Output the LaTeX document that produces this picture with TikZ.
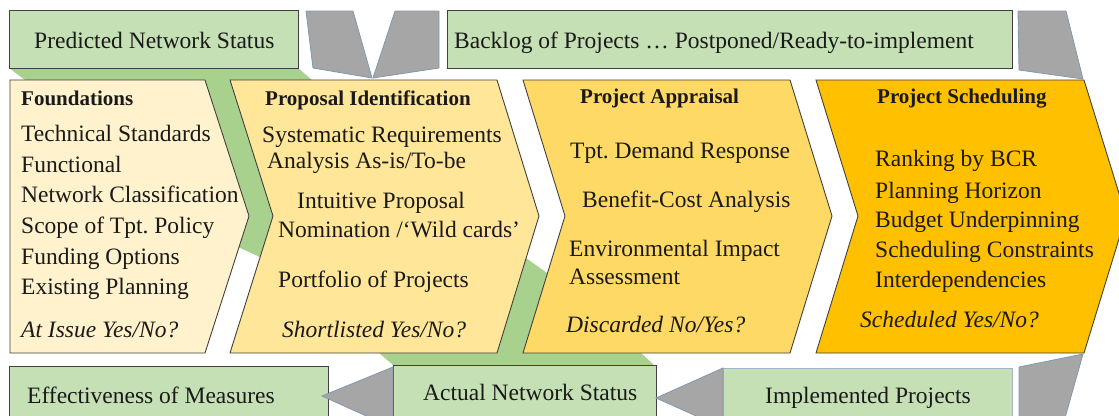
\documentclass[tikz,border=0pt]{standalone}
\usepackage{fontspec}
\setmainfont{Liberation Serif}
\frenchspacing
\definecolor{boxgreen}{HTML}{C5E0B4}
\definecolor{bandgreen}{HTML}{A9D18E}
\definecolor{funnelgray}{HTML}{A6A6A6}
\definecolor{funnelrim}{HTML}{8497B0}
\definecolor{lightrim}{HTML}{A3B4C8}
\definecolor{stageA}{HTML}{FFF2CC}
\definecolor{stageB}{HTML}{FFE699}
\definecolor{stageC}{HTML}{FFD966}
\definecolor{stageD}{HTML}{FFC000}
\definecolor{ink}{HTML}{1A1A1A}
\begin{document}
\begin{tikzpicture}[x=1pt,y=-1pt,
  outline/.style={draw=black!75, line width=0.9pt, line join=miter},
  greenbox/.style={outline, fill=boxgreen},
  band/.style={fill=bandgreen},
  funnel/.style={fill=funnelgray, draw=funnelrim, line width=0.8pt, line join=miter},
  item/.style={anchor=base west, inner sep=0pt, text=ink, font=\fontsize{23.5}{26}\selectfont},
  head/.style={anchor=base west, inner sep=0pt, text=ink, font=\fontsize{21}{24}\selectfont\bfseries},
  verdict/.style={anchor=base west, inner sep=0pt, text=ink, font=\fontsize{23.5}{26}\selectfont\itshape},
]
\useasboundingbox (0,0) rectangle (1119,415);
\clip (0,0) rectangle (1119,415);

% green bands behind the stage chevrons
\fill[band] (9,68) -- (298,68) -- (312,80) -- (290,150) -- (275,240) -- (262,258)
  -- (238,247) -- (200,200) -- (25,80) -- cycle;
\fill[band] (378,352) -- (393,365) -- (654,365) -- (640,352) -- (560,300)
  -- (547,273) -- (526,258) -- (500,300) -- cycle;

% top status boxes
\draw[greenbox] (9,10) rectangle (298,68);
\draw[greenbox] (447,10) rectangle (1012,68);
\node[item] (pred) at (34,48) {Predicted Network Status};
\node[item] (backlog) at (454,48) {Backlog of Projects … Postponed/Ready-to-implement};

% gray funnel pieces
\draw[funnel] (306,11) -- (353,11) -- (372,78) -- (313,68) -- cycle;
\draw[funnel] (395,11) -- (439,11) -- (439,68) -- (373,78) -- cycle;
\draw[funnel] (1018,11) -- (1066,11) -- (1083,79) -- (1019,70) -- cycle;
\draw[funnel] (1019,367) -- (1083,354) -- (1063,425) -- (1019,425) -- cycle;

% stage chevrons
\draw[outline, fill=stageA] (10,80) -- (205,80) -- (249,216) -- (205,353) -- (10,353) -- cycle;
\draw[outline, fill=stageB] (230,80) -- (497,80) -- (539,216) -- (497,353) -- (230,353) -- (273,216) -- cycle;
\draw[outline, fill=stageC] (523,80) -- (790,80) -- (832,216) -- (790,353) -- (523,353) -- (565,216) -- cycle;
\draw[outline, fill=stageD] (816,80) -- (1084,80) -- (1126,216) -- (1084,353) -- (816,353) -- (858,216) -- cycle;

% Foundations
\node[head] (f0) at (21,105) {Foundations};
\node[item] (f1) at (21,141) {Technical Standards};
\node[item] (f2) at (21,172) {Functional};
\node[item] (f3) at (21,202) {Network Classification};
\node[item] (f4) at (21,233) {Scope of Tpt. Policy};
\node[item] (f5) at (21,264) {Funding Options};
\node[item] (f6) at (21,294) {Existing Planning};
\node[verdict] (f7) at (21,337) {At Issue Yes/No?};

% Proposal Identification
\node[head] (p0) at (265,105) {Proposal Identification};
\node[item] (p1) at (262,142) {Systematic Requirements};
\node[item] (p2) at (267,168) {Analysis As-is/To-be};
\node[item] (p3) at (297,208) {Intuitive Proposal};
\node[item] (p4) at (278,237) {Nomination /‘Wild cards’};
\node[item] (p5) at (278,287) {Portfolio of Projects};
\node[verdict] (p6) at (282,337) {Shortlisted Yes/No?};

% Project Appraisal
\node[head] (a0) at (580,103) {Project Appraisal};
\node[item] (a1) at (570,158) {Tpt. Demand Response};
\node[item] (a2) at (582,207) {Benefit-Cost Analysis};
\node[item] (a3) at (569,256) {Environmental Impact};
\node[item] (a4) at (569,284) {Assessment};
\node[verdict] (a5) at (566,332) {Discarded No/Yes?};

% Project Scheduling
\node[head] (s0) at (877,103) {Project Scheduling};
\node[item] (s1) at (875,166) {Ranking by BCR};
\node[item] (s2) at (875,198) {Planning Horizon};
\node[item] (s3) at (875,227) {Budget Underpinning};
\node[item] (s4) at (875,257) {Scheduling Constraints};
\node[item] (s5) at (875,287) {Interdependencies};
\node[verdict] (s6) at (860,327) {Scheduled Yes/No?};

% bottom status boxes
\draw[greenbox] (9,366) rectangle (328,430);
\draw[greenbox] (393,365) rectangle (656,430);
\draw[draw=lightrim, line width=0.9pt, fill=boxgreen] (723,368) rectangle (1012,430);
\node[item] (eff) at (27,403) {Effectiveness of Measures};
\node[item] (actual) at (423,400) {Actual Network Status};
\node[item] (impl) at (765,403) {Implemented Projects};

% leftward gray pointers between bottom boxes
\draw[funnel] (393,367) -- (393,428) -- (322,396) -- cycle;
\draw[funnel] (723,368) -- (723,428) -- (656,398) -- cycle;
\end{tikzpicture}
\end{document}
